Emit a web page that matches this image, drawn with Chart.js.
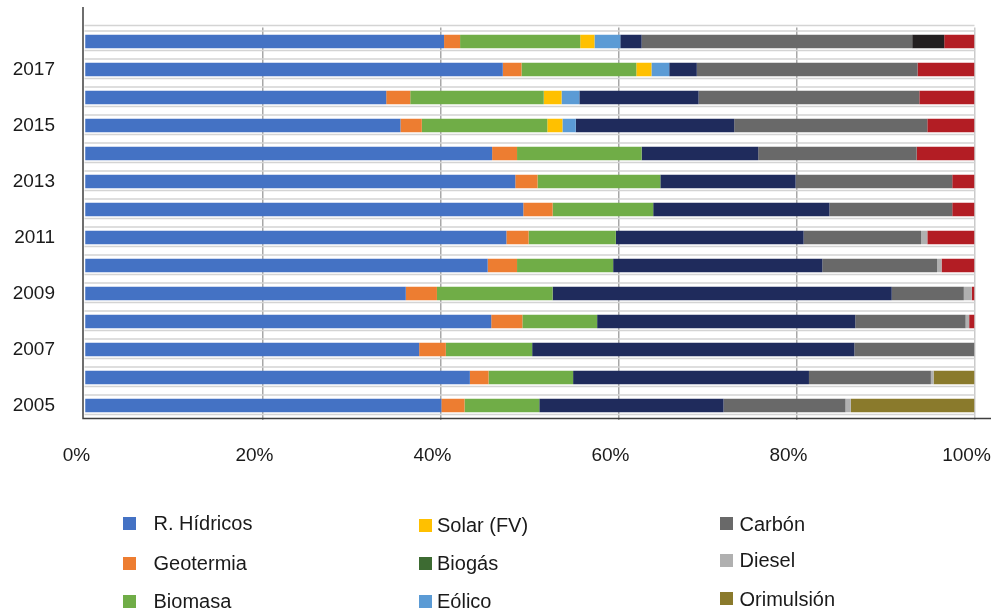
<!DOCTYPE html>
<html lang="es">
<head>
<meta charset="utf-8">
<title>Generación eléctrica por fuente 2005-2018</title>
<script src="https://cdn.jsdelivr.net/npm/chart.js@4.4.1/dist/chart.umd.min.js"></script>
<style>
  html, body { margin: 0; padding: 0; background: #fff; }
  #wrap { position: relative; width: 991px; height: 612px; overflow: hidden;
          font-family: "Liberation Sans", Arial, sans-serif; }
  #chart { position: absolute; left: 0; top: 0; }
  .key { position: absolute; font-size: 20px; line-height: 20px; color: #1a1a1a; white-space: nowrap; }
  .sw { position: absolute; width: 13px; height: 13px; }
</style>
</head>
<body>
<div id="wrap">
  <canvas id="chart" width="991" height="612"></canvas>
  <div id="legend"></div>
</div>
<script>
// Years on the category axis (bottom to top)
const years = ['2005','2006','2007','2008','2009','2010','2011','2012','2013','2014','2015','2016','2017','2018'];

// Share of generation by source, % of the yearly total
const hidricos   = [40.1, 43.3, 37.6, 45.7, 36.1, 45.3, 47.4, 49.3, 48.4, 45.8, 35.5, 33.9, 47.0, 40.4];
const geotermia  = [ 2.6,  2.1,  3.0,  3.5,  3.5,  3.3,  2.5,  3.3,  2.5,  2.8,  2.4,  2.7,  2.1,  1.8];
const biomasa    = [ 8.4,  9.5,  9.7,  8.4, 13.0, 10.8,  9.8, 11.3, 13.8, 14.0, 14.1, 15.0, 12.9, 13.5];
const solar      = [ 0,    0,    0,    0,    0,    0,    0,    0,    0,    0,    1.7,  2.0,  1.7,  1.6];
const biogas     = [ 0,    0,    0,    0,    0,    0,    0,    0,    0,    0,    0,    0,    0,    0  ];
const eolico     = [ 0,    0,    0,    0,    0,    0,    0,    0,    0,    0,    1.5,  2.0,  2.0,  2.9];
const bunker     = [20.7, 26.5, 36.2, 29.0, 38.1, 23.5, 21.1, 19.8, 15.2, 13.1, 17.8, 13.4,  3.1,  2.4];
const carbon     = [13.7, 13.7, 13.5, 12.4,  8.1, 12.9, 13.2, 13.8, 17.6, 17.8, 21.7, 24.8, 24.8, 30.4];
const gasNatural = [ 0,    0,    0,    0,    0,    0,    0,    0,    0,    0,    0,    0,    0,    3.6];
const diesel     = [ 0.6,  0.3,  0,    0.4,  0.9,  0.5,  0.7,  0,    0,    0,    0,    0,    0,    0  ];
const coque      = [ 0,    0,    0,    0.6,  0.3,  3.7,  5.3,  2.5,  2.5,  6.5,  5.3,  6.2,  6.4,  3.4];
const orimulsion = [13.9,  4.6,  0,    0,    0,    0,    0,    0,    0,    0,    0,    0,    0,    0  ];

// Percent ticks on the value axis
const percentTicks = [0, 20, 40, 60, 80, 100];

// Stack order, left to right
const series = [
  { label: 'R. Hídricos', data: hidricos,   color: '#4472C4' },
  { label: 'Geotermia',   data: geotermia,  color: '#ED7D31' },
  { label: 'Biomasa',     data: biomasa,    color: '#70AD47' },
  { label: 'Solar (FV)',  data: solar,      color: '#FFC000' },
  { label: 'Biogás',      data: biogas,     color: '#3D6B32' },
  { label: 'Eólico',      data: eolico,     color: '#5B9BD5' },
  { label: 'Búnker',      data: bunker,     color: '#1F2B5C' },
  { label: 'Carbón',      data: carbon,     color: '#696969' },
  { label: 'Gas natural', data: gasNatural, color: '#231F20' },
  { label: 'Diesel',      data: diesel,     color: '#B0B0B0' },
  { label: 'Coque',       data: coque,      color: '#B31D24' },
  { label: 'Orimulsión',  data: orimulsion, color: '#8A7A2C' }
];

// Legend placement: three columns of three keys
const legendSlots = [
  { label: 'R. Hídricos', sx: 123, tx: 153.5, cy: 523 },
  { label: 'Geotermia',   sx: 123, tx: 153.5, cy: 563 },
  { label: 'Biomasa',     sx: 123, tx: 153.5, cy: 601 },
  { label: 'Solar (FV)',  sx: 419, tx: 437,   cy: 525 },
  { label: 'Biogás',      sx: 419, tx: 437,   cy: 563 },
  { label: 'Eólico',      sx: 419, tx: 437,   cy: 601 },
  { label: 'Carbón',      sx: 720, tx: 739.5, cy: 523.5 },
  { label: 'Diesel',      sx: 720, tx: 739.5, cy: 560 },
  { label: 'Orimulsión',  sx: 720, tx: 739.5, cy: 598.5 }
];

// Light rule lines framing each bar row, plus the extended axis lines
const rowFrame = {
  id: 'rowFrame',
  beforeDatasetsDraw(chart) {
    const { ctx, chartArea: a, scales: { y } } = chart;
    ctx.save();
    ctx.strokeStyle = '#d4d4d4';
    ctx.lineWidth = 1.5;
    ctx.beginPath();
    ctx.moveTo(a.left, a.top - 2); ctx.lineTo(a.right, a.top - 2);
    years.forEach((_, i) => {
      const c = y.getPixelForValue(i);
      [-10.5, 9].forEach(d => { ctx.moveTo(a.left, c + d); ctx.lineTo(a.right, c + d); });
    });
    ctx.stroke();
    ctx.restore();
  },
  afterDraw(chart) {
    const { ctx, chartArea: a, width } = chart;
    ctx.save();
    ctx.strokeStyle = '#3f3f3f';
    ctx.lineWidth = 1.5;
    ctx.beginPath();
    ctx.moveTo(a.left - 1.5, 7); ctx.lineTo(a.left - 1.5, a.bottom - 1);
    ctx.lineTo(width, a.bottom - 1);
    ctx.stroke();
    ctx.restore();
  }
};

const tickFont = { family: '"Liberation Sans", Arial, sans-serif', size: 19 };

new Chart(document.getElementById('chart'), {
  type: 'bar',
  data: {
    labels: years,
    datasets: series.map(s => ({
      label: s.label,
      data: s.data,
      backgroundColor: s.color,
      borderWidth: 0,
      categoryPercentage: 1,
      barPercentage: 0.475
    }))
  },
  options: {
    indexAxis: 'y',
    responsive: false,
    animation: false,
    layout: { padding: { left: 0, right: 16.5, top: 27.5, bottom: 0 } },
    plugins: { legend: { display: false }, tooltip: { enabled: false } },
    scales: {
      x: {
        type: 'linear',
        stacked: true,
        min: 0,
        max: 100,
        afterBuildTicks(scale) { scale.ticks = percentTicks.map(v => ({ value: v })); },
        afterFit(scale) { scale.height = 192.5; scale.paddingLeft = 0; scale.paddingRight = 0; },
        border: { display: false },
        grid: {
          drawTicks: false,
          lineWidth: 1.5,
          color: c => c.tick && c.tick.value === 0 ? 'rgba(0,0,0,0)'
                    : (c.tick && c.tick.value === 100 ? '#cacaca' : '#a8a8a8')
        },
        ticks: {
          callback: v => v + '%',
          font: tickFont,
          color: '#1a1a1a',
          padding: 24.5,
          labelOffset: -8,
          maxRotation: 0,
          autoSkip: false
        }
      },
      y: {
        type: 'category',
        stacked: true,
        reverse: true,
        afterFit(scale) { scale.width = 84.5; scale.paddingTop = 0; scale.paddingBottom = 0; },
        border: { display: false },
        grid: { display: false, drawTicks: false },
        ticks: {
          font: tickFont,
          color: '#1a1a1a',
          padding: 29.5,
          autoSkip: false,
          callback(value) {
            const year = this.getLabelForValue(value);
            return Number(year) % 2 ? year : '';
          }
        }
      }
    }
  },
  plugins: [rowFrame]
});

// Legend keys built from the series list
const legend = document.getElementById('legend');
legendSlots.forEach(slot => {
  const s = series.find(d => d.label === slot.label);
  const sw = document.createElement('div');
  sw.className = 'sw';
  sw.style.left = slot.sx + 'px';
  sw.style.top = (slot.cy - 6.5) + 'px';
  sw.style.background = s.color;
  const key = document.createElement('div');
  key.className = 'key';
  key.style.left = slot.tx + 'px';
  key.style.top = (slot.cy - 10) + 'px';
  key.textContent = s.label;
  legend.appendChild(sw);
  legend.appendChild(key);
});
</script>
</body>
</html>
